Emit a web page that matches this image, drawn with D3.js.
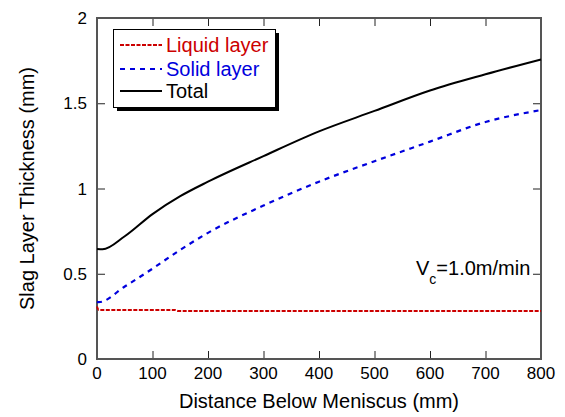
<!DOCTYPE html>
<html>
<head>
<meta charset="utf-8">
<script src="https://cdn.jsdelivr.net/npm/d3@7"></script>
<style>
  html, body { margin: 0; padding: 0; background: #fff; }
  svg { display: block; font-family: "Liberation Sans", Arial, sans-serif; }
</style>
</head>
<body>
<svg id="chart" width="565" height="417"></svg>
<script>
// Distance below meniscus (mm) and slag layer thickness (mm) for each layer
const totalDist  = [0, 10, 50, 100, 150, 200, 300, 400, 500, 600, 700, 800];
const totalThk   = [0.645, 0.643, 0.72, 0.85, 0.955, 1.04, 1.19, 1.335, 1.455, 1.575, 1.67, 1.757];
const solidDist  = [0, 3, 50, 100, 150, 200, 300, 400, 500, 600, 700, 800];
const solidThk   = [0.335, 0.333, 0.425, 0.53, 0.64, 0.74, 0.90, 1.04, 1.16, 1.275, 1.39, 1.46];
const liquidDist = [0, 3, 140, 146, 800];
const liquidThk  = [0.308, 0.288, 0.288, 0.282, 0.282];

const seriesNames = ["Liquid layer", "Solid layer", "Total"];
const xTicks = [0, 100, 200, 300, 400, 500, 600, 700, 800];
const yTicks = [0, 0.5, 1, 1.5, 2];
const yTickLabels = ["0", "0.5", "1", "1.5", "2"];
const annotation = { main: "V", sub: "c", rest: "=1.0m/min" };

const svg = d3.select("#chart");
const plotL = 97, plotR = 541, plotT = 18, plotB = 359;

const x = d3.scaleLinear().domain([0, 800]).range([plotL, plotR]);
const y = d3.scaleLinear().domain([0, 2]).range([plotB, plotT]);

const xMinor = d3.range(0, 801, 20);
const yMinor = d3.range(0, 2.0001, 0.1).map(v => +v.toFixed(1));

// axes with inward ticks on all four sides
function tickAxis(axisFn, scale, ticks, size) {
  return axisFn(scale).tickValues(ticks).tickSize(size).tickFormat("");
}
const axisColor = "#222";

const gB = svg.append("g").attr("transform", `translate(0,${plotB})`);
gB.call(tickAxis(d3.axisTop, x, xMinor, 5));
gB.call(tickAxis(d3.axisTop, x, xTicks, 8));
const gT = svg.append("g").attr("transform", `translate(0,${plotT})`);
gT.call(tickAxis(d3.axisBottom, x, xMinor, 5));
gT.call(tickAxis(d3.axisBottom, x, xTicks, 8));
const gL = svg.append("g").attr("transform", `translate(${plotL},0)`);
gL.call(tickAxis(d3.axisRight, y, yMinor, 5));
gL.call(tickAxis(d3.axisRight, y, yTicks, 8));
const gR = svg.append("g").attr("transform", `translate(${plotR},0)`);
gR.call(tickAxis(d3.axisLeft, y, yMinor, 5));
gR.call(tickAxis(d3.axisLeft, y, yTicks, 8));

svg.selectAll(".domain").remove();
svg.selectAll(".tick line").attr("stroke", axisColor).attr("stroke-width", 1);

// frame
svg.append("rect")
  .attr("x", plotL).attr("y", plotT)
  .attr("width", plotR - plotL).attr("height", plotB - plotT)
  .attr("fill", "none").attr("stroke", "#555").attr("stroke-width", 2);

// tick labels
svg.append("g").selectAll("text").data(xTicks).join("text")
  .attr("x", d => x(d)).attr("y", plotB + 20)
  .attr("text-anchor", "middle").attr("font-size", 17).attr("fill", "#000")
  .text(d => d);
svg.append("g").selectAll("text").data(yTicks).join("text")
  .attr("x", plotL - 10).attr("y", d => y(d) + 6)
  .attr("text-anchor", "end").attr("font-size", 17).attr("fill", "#000")
  .text((d, i) => yTickLabels[i]);

// axis titles
svg.append("text")
  .attr("x", (plotL + plotR) / 2).attr("y", 408)
  .attr("text-anchor", "middle").attr("font-size", 20)
  .text("Distance Below Meniscus (mm)");
svg.append("text")
  .attr("transform", `translate(34,${(plotT + plotB) / 2}) rotate(-90)`)
  .attr("text-anchor", "middle").attr("font-size", 20)
  .text("Slag Layer Thickness (mm)");

// curves
const line = d3.line().x(d => x(d[0])).y(d => y(d[1])).curve(d3.curveMonotoneX);
const series = [
  { name: seriesNames[0], dist: liquidDist, thk: liquidThk, color: "#cc0000", width: 2, dash: "4,1.5" },
  { name: seriesNames[1], dist: solidDist, thk: solidThk, color: "#0000dd", width: 2.2, dash: "5,5" },
  { name: seriesNames[2], dist: totalDist, thk: totalThk, color: "#000000", width: 2, dash: null }
];
series.forEach(s => {
  svg.append("path")
    .datum(s.dist.map((d, i) => [d, s.thk[i]]))
    .attr("d", line)
    .attr("fill", "none")
    .attr("stroke", s.color)
    .attr("stroke-width", s.width)
    .attr("stroke-dasharray", s.dash);
});

// legend with drop shadow
const lg = svg.append("g");
lg.append("rect").attr("x", 117).attr("y", 33).attr("width", 162).attr("height", 78).attr("fill", "#000");
lg.append("rect").attr("x", 113.5).attr("y", 29.5).attr("width", 162).attr("height", 78)
  .attr("fill", "#fff").attr("stroke", "#000").attr("stroke-width", 1);
const rowY = [45, 69, 91];
series.forEach((s, i) => {
  lg.append("line")
    .attr("x1", 120).attr("x2", 162).attr("y1", rowY[i]).attr("y2", rowY[i])
    .attr("stroke", s.color).attr("stroke-width", s.width).attr("stroke-dasharray", s.dash);
  lg.append("text")
    .attr("x", 166).attr("y", rowY[i] + 7)
    .attr("font-size", 20).attr("fill", i === 2 ? "#000" : s.color)
    .text(s.name);
});

// casting speed note
const note = svg.append("text").attr("x", 416).attr("y", 275).attr("font-size", 20).attr("fill", "#000");
note.append("tspan").text(annotation.main);
note.append("tspan").attr("font-size", 14).attr("dy", 9).text(annotation.sub);
note.append("tspan").attr("dy", -9).text(annotation.rest);
</script>
</body>
</html>
